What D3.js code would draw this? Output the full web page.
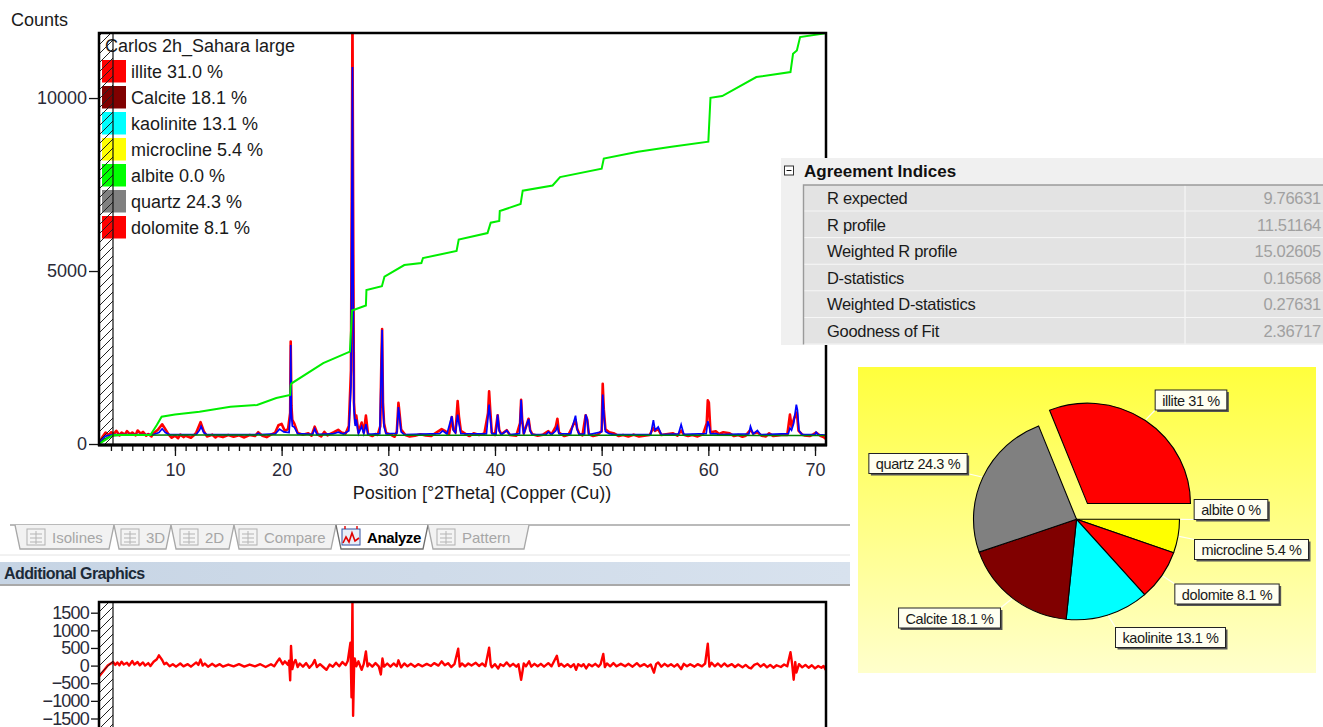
<!DOCTYPE html>
<html>
<head>
<meta charset="utf-8">
<script src="https://cdnjs.cloudflare.com/ajax/libs/d3/7.8.5/d3.min.js"></script>
<style>
body { margin: 0; background: #fff; }
svg { display: block; font-family: "Liberation Sans", Arial, sans-serif; }
</style>
</head>
<body>
<div id="chart"></div>
<script>
// phases found in the scan (legend order) and their weight %
var phases = ["illite", "Calcite", "kaolinite", "microcline", "albite", "quartz", "dolomite"];
var phasePercents = [31.0, 18.1, 13.1, 5.4, 0.0, 24.3, 8.1];
var phaseColors = ["#ff0000", "#800000", "#00ffff", "#ffff00", "#00ff00", "#808080", "#ff0000"];

// pie slices, clockwise from 3 o'clock
var pieOrder = ["albite", "microcline", "dolomite", "kaolinite", "Calcite", "quartz", "illite"];

// agreement indices table
var indexNames = ["R expected", "R profile", "Weighted R profile", "D-statistics", "Weighted D-statistics", "Goodness of Fit"];
var indexValues = [9.76631, 11.51164, 15.02605, 0.16568, 0.27631, 2.36717];

// tick labels
var xTicks = [10, 20, 30, 40, 50, 60, 70];
var yTicks = [0, 5000, 10000];
var diffTicks = [-1500, -1000, -500, 0, 500, 1000, 1500];

// observed counts [2theta, counts]
var observed = [
  [2.9, 40], [3.2, 200], [3.5, 330], [3.8, 260], [4.0, 340], [4.3, 300], [4.5, 380], [4.8, 250], [5.0, 330],
  [5.3, 270], [5.5, 370], [5.8, 280], [6.0, 330], [6.3, 250], [6.5, 390], [6.8, 300], [7.0, 350], [7.3, 240],
  [7.5, 290], [7.8, 220], [8.0, 310], [8.4, 410], [8.8, 570], [9.1, 430], [9.4, 280], [9.7, 180], [10.0, 240],
  [10.3, 170], [10.5, 270], [10.8, 200], [11.0, 240], [11.5, 180], [11.8, 260], [12.0, 330], [12.4, 630],
  [12.7, 370], [13.0, 220], [13.5, 270], [13.8, 190], [14.0, 240], [14.5, 200], [15.0, 260], [15.5, 210],
  [16.0, 250], [16.5, 190], [17.0, 260], [17.5, 230], [17.8, 340], [18.2, 240], [18.6, 200], [19.0, 270],
  [19.4, 330], [19.7, 540], [20.0, 580], [20.3, 380], [20.6, 430], [20.8, 900], [20.85, 2960], [20.92, 1100],
  [21.0, 700], [21.2, 580], [21.5, 320], [22.0, 270], [22.5, 310], [22.8, 240], [23.1, 500], [23.4, 270],
  [23.7, 220], [24.0, 350], [24.3, 250], [24.6, 300], [24.9, 340], [25.3, 410], [25.6, 330], [26.0, 300],
  [26.3, 520], [26.5, 2140], [26.6, 9000], [26.64, 12500], [26.7, 7000], [26.78, 1200], [26.9, 600], [27.0, 820],
  [27.2, 330], [27.5, 620], [27.7, 330], [27.9, 820], [28.1, 280], [28.5, 230], [28.8, 290], [29.0, 260],
  [29.25, 520], [29.35, 2400], [29.42, 3320], [29.5, 1200], [29.6, 600], [29.8, 320], [30.3, 260], [30.6, 210],
  [30.8, 360], [30.95, 1190], [31.05, 900], [31.2, 420], [31.6, 260], [32.0, 220], [32.5, 240], [33.0, 280],
  [33.5, 250], [34.0, 230], [34.5, 330], [35.0, 430], [35.3, 380], [35.7, 290], [35.95, 780], [36.1, 420],
  [36.3, 330], [36.5, 1240], [36.62, 800], [36.8, 380], [37.3, 280], [37.6, 230], [38.0, 310], [38.5, 260],
  [39.0, 300], [39.35, 900], [39.45, 1520], [39.55, 1000], [39.7, 330], [40.0, 260], [40.25, 830], [40.4, 400],
  [40.6, 280], [41.1, 400], [41.4, 260], [42.0, 240], [42.35, 600], [42.45, 1280], [42.55, 700], [42.7, 300],
  [43.15, 730], [43.3, 400], [43.5, 280], [44.0, 240], [44.5, 270], [45.0, 370], [45.3, 280], [45.7, 500],
  [45.85, 730], [46.0, 330], [46.5, 230], [46.9, 270], [47.2, 460], [47.55, 700], [47.7, 450], [47.9, 290],
  [48.2, 250], [48.5, 830], [48.65, 700], [48.8, 280], [49.2, 230], [49.6, 260], [50.0, 380], [50.1, 1740],
  [50.2, 1000], [50.35, 430], [50.7, 340], [51.2, 300], [51.6, 230], [52.0, 260], [52.5, 220], [53.0, 270],
  [53.5, 220], [54.0, 240], [54.5, 260], [54.85, 470], [55.0, 380], [55.3, 430], [55.6, 260], [56.2, 290],
  [56.7, 310], [57.1, 240], [57.45, 390], [57.7, 270], [58.1, 230], [58.5, 260], [59.0, 220], [59.5, 280],
  [59.85, 600], [59.95, 1260], [60.05, 1200], [60.2, 340], [60.7, 370], [61.0, 290], [61.4, 340], [62.0, 310],
  [62.4, 230], [62.8, 260], [63.2, 210], [63.5, 240], [63.95, 410], [64.2, 300], [64.6, 340], [65.0, 240],
  [65.4, 220], [65.7, 310], [66.1, 230], [66.5, 250], [67.0, 270], [67.4, 260], [67.65, 850], [67.8, 500],
  [68.0, 700], [68.15, 830], [68.3, 910], [68.45, 390], [68.8, 270], [69.0, 250], [69.5, 230], [69.8, 270],
  [70.1, 330], [70.5, 240], [70.8, 200], [71.0, 150]
];

// calculated profile [2theta, counts]
var calculated = [
  [2.9, 30], [3.5, 230], [4.2, 270], [6.0, 270], [8.0, 275], [8.5, 330], [8.8, 440], [9.1, 330], [9.5, 270],
  [12.0, 275], [12.3, 400], [12.45, 510], [12.7, 330], [13.0, 270], [17.6, 270], [17.8, 310], [18.0, 270],
  [19.4, 290], [19.8, 430], [20.2, 350], [20.7, 330], [20.8, 800], [20.85, 2860], [20.92, 900], [21.0, 520],
  [21.2, 480], [21.5, 300], [22.9, 280], [23.1, 440], [23.3, 280], [24.8, 290], [25.3, 340], [25.8, 290],
  [26.3, 380], [26.5, 1660], [26.58, 7000], [26.64, 10900], [26.7, 5000], [26.78, 1000], [26.9, 520],
  [27.0, 710], [27.2, 300], [27.5, 510], [27.7, 300], [27.9, 570], [28.1, 280], [29.2, 300], [29.35, 2300],
  [29.42, 3300], [29.5, 1100], [29.6, 500], [29.8, 290], [30.8, 310], [30.95, 1070], [31.05, 800], [31.2, 350],
  [31.5, 270], [34.8, 300], [35.1, 380], [35.5, 290], [35.95, 800], [36.1, 400], [36.3, 320], [36.5, 850],
  [36.62, 600], [36.8, 300], [39.2, 290], [39.35, 800], [39.45, 1140], [39.55, 800], [39.7, 300], [40.1, 290],
  [40.25, 850], [40.4, 380], [40.6, 270], [41.1, 390], [41.4, 270], [42.3, 300], [42.45, 1280], [42.55, 700],
  [42.7, 280], [43.15, 720], [43.3, 380], [43.5, 270], [44.8, 280], [45.0, 350], [45.3, 270], [45.7, 380],
  [45.85, 510], [46.0, 300], [47.1, 290], [47.2, 430], [47.55, 820], [47.7, 420], [47.9, 280], [48.4, 290],
  [48.5, 850], [48.65, 700], [48.8, 270], [50.0, 350], [50.1, 1430], [50.2, 900], [50.35, 360], [50.7, 300],
  [51.2, 270], [54.6, 280], [54.85, 690], [55.0, 400], [55.3, 490], [55.6, 270], [57.2, 290], [57.45, 560],
  [57.7, 280], [59.8, 300], [59.95, 660], [60.1, 500], [60.2, 290], [60.7, 300], [61.0, 270], [63.8, 290],
  [63.95, 510], [64.2, 290], [64.6, 390], [64.9, 270], [67.5, 300], [67.65, 460], [67.8, 400], [68.0, 600],
  [68.15, 920], [68.25, 1140], [68.35, 990], [68.5, 380], [68.8, 270], [70.0, 280], [70.1, 340], [70.3, 270],
  [71.0, 260]
];

// refined background [2theta, counts]
var background = [
  [2.9, 0], [3.4, 150], [4.0, 230], [5.0, 255], [10.0, 258], [20.0, 258], [30.0, 255], [40.0, 252],
  [50.0, 250], [60.0, 250], [71.0, 245]
];

// cumulative (green) curve [2theta, counts]
var cumulative = [
  [2.9, 0], [4.2, 260], [7.7, 260], [8.3, 550], [8.75, 790], [10.0, 850], [12.3, 934], [15.2, 1078],
  [17.7, 1127], [19.5, 1329], [20.8, 1416], [20.85, 1705], [20.94, 1754], [23.9, 2340], [26.4, 2668],
  [26.6, 3858], [27.9, 4003], [27.95, 4450], [29.4, 4560], [29.64, 4835], [31.5, 5173], [33.1, 5231],
  [33.25, 5375], [36.4, 5578], [36.6, 5907], [39.3, 6098], [39.6, 6396], [40.4, 6445], [40.45, 6734],
  [42.4, 6936], [42.6, 7323], [45.4, 7471], [46.1, 7716], [50.0, 7959], [50.2, 8251], [53.4, 8447],
  [56.55, 8592], [60.0, 8739], [60.2, 10008], [61.3, 10057], [64.5, 10606], [67.7, 10751], [67.94, 11277],
  [68.3, 11375], [68.6, 11762], [70.8, 11863], [71.0, 11880]
];

// difference (observed - calculated) [2theta, counts]
var difference = [
  [2.9, -300], [3.3, -150], [3.7, 0], [4.2, 100], [4.4, 20], [4.6, 90], [4.8, 10], [5.0, 110], [5.2, 30],
  [5.5, 80], [5.7, 0], [6.0, 130], [6.2, 30], [6.5, 100], [6.7, 10], [7.0, 90], [7.2, 0], [7.5, 70],
  [7.7, -10], [8.0, 110], [8.3, 180], [8.5, 290], [8.8, 160], [9.0, 40], [9.2, 80], [9.5, -20], [9.8, 40],
  [10.1, -30], [10.5, 60], [10.8, -20], [11.2, 40], [11.5, -30], [12.0, 90], [12.2, 20], [12.4, 170],
  [12.6, 0], [12.8, 60], [13.1, -30], [13.5, 50], [13.8, -20], [14.2, 40], [14.5, -30], [15.0, 30],
  [15.5, -20], [16.0, 40], [16.5, -30], [17.0, 30], [17.5, -20], [18.0, 40], [18.5, -40], [19.0, 40],
  [19.3, -20], [19.6, 120], [19.8, 200], [20.1, 40], [20.3, 120], [20.6, 20], [20.7, 140], [20.8, -420],
  [20.88, 560], [21.0, -100], [21.15, 80], [21.3, 160], [21.5, -40], [21.7, 60], [22.0, -30], [22.3, 70],
  [22.6, -60], [22.9, 40], [23.1, 160], [23.3, -40], [23.6, 40], [23.9, -40], [24.2, -120], [24.5, 30],
  [24.8, -30], [25.1, 80], [25.4, -20], [25.7, 100], [26.0, 10], [26.2, 130], [26.45, 650], [26.55, -900],
  [26.64, 1900], [26.7, -1420], [26.8, 60], [26.85, 200], [27.0, -20], [27.2, 120], [27.4, -40], [27.5, -120],
  [27.7, 50], [27.9, 400], [28.05, -20], [28.2, 60], [28.5, -30], [28.8, 70], [29.1, -20], [29.3, -250],
  [29.45, 200], [29.6, -30], [29.9, 60], [30.2, -30], [30.5, 60], [30.8, -20], [30.95, 150], [31.2, -50],
  [31.5, 60], [31.8, -20], [32.1, 50], [32.5, -30], [32.8, 40], [33.2, -20], [33.6, 50], [34.0, -10],
  [34.3, 70], [34.7, 0], [35.0, 120], [35.3, 10], [35.6, 70], [35.9, -40], [36.2, 40], [36.55, 480],
  [36.7, -30], [36.9, 60], [37.2, -20], [37.5, 60], [37.8, 0], [38.2, 80], [38.5, -10], [38.8, 60],
  [39.1, -20], [39.45, 510], [39.6, 20], [39.7, -50], [40.0, 40], [40.3, -80], [40.5, 40], [40.8, -10],
  [41.1, 90], [41.4, -20], [41.7, 50], [42.0, -30], [42.2, 40], [42.45, -400], [42.7, 60], [42.9, -20],
  [43.2, 120], [43.4, -30], [43.7, 50], [44.0, -20], [44.3, 50], [44.6, -30], [45.0, 70], [45.3, -20],
  [45.8, 280], [46.0, -10], [46.2, 50], [46.5, -30], [46.8, 40], [47.1, -40], [47.4, 40], [47.6, -120],
  [47.8, 40], [48.1, -20], [48.3, 40], [48.55, -80], [48.8, 40], [49.1, -20], [49.4, 50], [49.7, -30],
  [49.9, 40], [50.15, 330], [50.3, -40], [50.5, 60], [50.8, -20], [51.1, 70], [51.4, -20], [51.8, 50],
  [52.2, -20], [52.5, 50], [52.9, -30], [53.3, 70], [53.6, -20], [54.0, 40], [54.3, -30], [54.6, 30],
  [54.9, -200], [55.1, 40], [55.3, 90], [55.6, -30], [55.9, 50], [56.2, -20], [56.5, 40], [56.8, -30],
  [57.1, 40], [57.45, -100], [57.7, 50], [58.0, -20], [58.3, 40], [58.7, -30], [59.0, 40], [59.4, -20],
  [59.7, 60], [59.95, 620], [60.1, -30], [60.3, 80], [60.6, -20], [60.9, 60], [61.2, -30], [61.5, 60],
  [61.8, -20], [62.2, 40], [62.5, -40], [62.8, 30], [63.2, -50], [63.5, 20], [63.8, -60], [64.0, -80],
  [64.3, 20], [64.6, 60], [64.9, -30], [65.2, 40], [65.5, -50], [65.8, 20], [66.1, -60], [66.4, 10],
  [66.8, -40], [67.1, 30], [67.4, -20], [67.7, 380], [67.85, 60], [68.0, -400], [68.15, 100], [68.25, -200],
  [68.5, 40], [68.8, -50], [69.1, 20], [69.4, -60], [69.7, 10], [70.0, -80], [70.3, -10], [70.6, -60],
  [70.8, -10], [71.0, -120]
];

var W = 1323, H = 727;
var svg = d3.select("#chart").append("svg").attr("width", W).attr("height", H);
var defs = svg.append("defs");

// hatch for the excluded low-angle region
var pat = defs.append("pattern").attr("id", "hatch")
  .attr("patternUnits", "userSpaceOnUse").attr("width", 9).attr("height", 9);
pat.append("path").attr("d", "M-2,2 L2,-2 M0,9 L9,0 M7,11 L11,7")
  .attr("stroke", "#222").attr("stroke-width", 1);

var yellowGrad = defs.append("linearGradient").attr("id", "yellowGrad")
  .attr("x1", 0).attr("y1", 0).attr("x2", 0).attr("y2", 1);
yellowGrad.append("stop").attr("offset", "0%").attr("stop-color", "#ffff3c");
yellowGrad.append("stop").attr("offset", "100%").attr("stop-color", "#ffffcc");

var headGrad = defs.append("linearGradient").attr("id", "headGrad")
  .attr("x1", 0).attr("y1", 0).attr("x2", 1).attr("y2", 0);
headGrad.append("stop").attr("offset", "0%").attr("stop-color", "#c6d4e4");
headGrad.append("stop").attr("offset", "100%").attr("stop-color", "#d8e2ee");

// ---------- main pattern plot ----------
var plotLeft = 99, plotRight = 826, plotTop = 33, plotBottom = 445, hatchEnd = 113;
var x = d3.scaleLinear().domain([2.88, 71.03]).range([plotLeft, plotRight]);
var y = d3.scaleLinear().domain([0, 11880]).range([444, plotTop]);

defs.append("clipPath").attr("id", "mainClip").append("rect")
  .attr("x", plotLeft).attr("y", plotTop).attr("width", plotRight - plotLeft).attr("height", plotBottom - plotTop);

var main = svg.append("g");

var line = d3.line().x(function(d) { return x(d[0]); }).y(function(d) { return y(d[1]); });
var plot = main.append("g").attr("clip-path", "url(#mainClip)");

plot.append("path").datum(observed).attr("d", line)
  .attr("fill", "none").attr("stroke", "#ff0000").attr("stroke-width", 2.6).attr("stroke-linejoin", "round");
plot.append("path").datum(calculated).attr("d", line)
  .attr("fill", "none").attr("stroke", "#0000ff").attr("stroke-width", 1.7);
plot.append("path").datum(background).attr("d", line)
  .attr("fill", "none").attr("stroke", "#008000").attr("stroke-width", 1.5);
plot.append("path").datum(cumulative).attr("d", line)
  .attr("fill", "none").attr("stroke", "#00ee00").attr("stroke-width", 2);

// legend
var legend = main.append("g");
legend.append("text").attr("x", 105).attr("y", 51.5).attr("font-size", 18).attr("fill", "#1a1a1a")
  .text("Carlos 2h_Sahara large");
var items = legend.selectAll("g.item").data(phases).enter().append("g").attr("class", "item")
  .attr("transform", function(d, i) { return "translate(0," + (60 + i * 26) + ")"; });
items.append("rect").attr("x", 102).attr("y", 0).attr("width", 24).attr("height", 22.5)
  .attr("fill", function(d, i) { return phaseColors[i]; });
items.append("text").attr("x", 131).attr("y", 17.5).attr("font-size", 18).attr("fill", "#1a1a1a")
  .text(function(d, i) { return d + " " + phasePercents[i].toFixed(1) + " %"; });

// hatched excluded zone drawn over the data and legend swatches
main.append("rect").attr("x", plotLeft).attr("y", plotTop).attr("width", hatchEnd - plotLeft).attr("height", plotBottom - plotTop)
  .attr("fill", "url(#hatch)");
main.append("line").attr("x1", hatchEnd).attr("x2", hatchEnd).attr("y1", plotTop).attr("y2", plotBottom)
  .attr("stroke", "#111").attr("stroke-width", 1.2);

// frame
main.append("rect").attr("x", plotLeft).attr("y", plotTop).attr("width", plotRight - plotLeft).attr("height", plotBottom - plotTop)
  .attr("fill", "none").attr("stroke", "#000").attr("stroke-width", 2.5);

// axes
main.append("g").attr("transform", "translate(0," + plotBottom + ")")
  .call(d3.axisBottom(x).tickValues(xTicks).tickSize(11).tickSizeOuter(0).tickPadding(7).tickFormat(d3.format("d")));
main.append("g").attr("transform", "translate(0," + plotBottom + ")")
  .call(d3.axisBottom(x).tickValues(d3.range(4, 71, 1)).tickSize(6).tickSizeOuter(0).tickFormat(""));
main.append("g").attr("transform", "translate(" + plotLeft + ",0)")
  .call(d3.axisLeft(y).tickValues(yTicks).tickSize(10).tickSizeOuter(0).tickPadding(2).tickFormat(d3.format("d")));
main.selectAll(".domain").remove();
main.selectAll(".tick line").attr("stroke", "#111").attr("stroke-width", 1.3);
main.selectAll(".tick text").attr("font-size", 18).attr("fill", "#2a2a38")
  .attr("font-family", "Liberation Sans, Arial, sans-serif");
main.append("line").attr("x1", plotLeft - 1).attr("x2", plotRight + 1).attr("y1", plotBottom).attr("y2", plotBottom)
  .attr("stroke", "#000").attr("stroke-width", 3);

main.append("text").attr("x", 11).attr("y", 26).attr("font-size", 18).attr("fill", "#1a1a1a").text("Counts");
main.append("text").attr("x", 482).attr("y", 499).attr("text-anchor", "middle").attr("font-size", 18)
  .attr("fill", "#1a1a1a").text("Position [°2Theta] (Copper (Cu))");

// ---------- tab strip & header ----------
var tabNames = ["Isolines", "3D", "2D", "Compare", "Analyze", "Pattern"];
var tabEdges = [15, 114, 171, 234, 336, 428, 529];
var tabTextX = [52, 146, 205, 264, 367, 462];
var tabs = svg.append("g");
tabs.append("line").attr("x1", 10).attr("x2", 850).attr("y1", 525).attr("y2", 525)
  .attr("stroke", "#a3a3a3").attr("stroke-width", 1.5);
tabNames.forEach(function(name, i) {
  var x0 = tabEdges[i], x1 = tabEdges[i + 1];
  var active = name === "Analyze";
  tabs.append("path")
    .attr("d", "M" + x0 + ",525 L" + (x0 + 5) + ",549 L" + (x1 - 5) + ",549 L" + x1 + ",525")
    .attr("fill", active ? "#ffffff" : "#f2f2f2").attr("stroke", active ? "#6d6d6d" : "#a8a8a8")
    .attr("stroke-width", 1.3);
  var ix = tabTextX[i] - 25;
  var icon = tabs.append("g").attr("transform", "translate(" + ix + ",529)");
  icon.append("rect").attr("x", 0).attr("y", 0).attr("width", 18).attr("height", 16)
    .attr("fill", active ? "#e8eef8" : "#f4f4f4").attr("stroke", active ? "#3050a0" : "#b0b0b0");
  if (active) {
    icon.append("path").attr("d", "M1,14 L4,8 L7,13 L10,4 L13,12 L17,9")
      .attr("fill", "none").attr("stroke", "#e00000").attr("stroke-width", 1.6);
    icon.append("path").attr("d", "M3,0 L3,-3 M15,0 L15,-3").attr("stroke", "#e00000").attr("stroke-width", 1.4);
  } else {
    icon.append("path").attr("d", "M3,5 L15,5 M3,9 L15,9 M3,13 L15,13 M9,2 L9,15")
      .attr("fill", "none").attr("stroke", "#b4b4b4").attr("stroke-width", 1);
  }
  tabs.append("text").attr("x", tabTextX[i]).attr("y", 543).attr("font-size", 15)
    .attr("fill", active ? "#000" : "#a6a6a6").attr("font-weight", active ? "bold" : "normal")
    .attr("letter-spacing", active ? -0.4 : 0)
    .text(name);
});
tabs.append("line").attr("x1", 0).attr("x2", 850).attr("y1", 555).attr("y2", 555)
  .attr("stroke", "#e4e4e4").attr("stroke-width", 1);
tabs.append("rect").attr("x", 0).attr("y", 562).attr("width", 850).attr("height", 22).attr("fill", "url(#headGrad)");
tabs.append("line").attr("x1", 0).attr("x2", 850).attr("y1", 585).attr("y2", 585)
  .attr("stroke", "#8c8c8c").attr("stroke-width", 1.5);
tabs.append("text").attr("x", 4).attr("y", 579).attr("font-size", 16).attr("font-weight", "bold")
  .attr("fill", "#1c2a38").attr("letter-spacing", -0.6).text("Additional Graphics");

// ---------- difference plot ----------
var dTop = 602, dBottom = 745;
var yd = d3.scaleLinear().domain([-1500, 1500]).range([718.5, 612.7]);
defs.append("clipPath").attr("id", "diffClip").append("rect")
  .attr("x", plotLeft).attr("y", dTop).attr("width", plotRight - plotLeft).attr("height", dBottom - dTop);
var diff = svg.append("g");
var dline = d3.line().x(function(d) { return x(d[0]); }).y(function(d) { return yd(d[1]); });
diff.append("g").attr("clip-path", "url(#diffClip)").append("path").datum(difference).attr("d", dline)
  .attr("fill", "none").attr("stroke", "#ff0000").attr("stroke-width", 2.4).attr("stroke-linejoin", "round");
diff.append("rect").attr("x", plotLeft).attr("y", dTop).attr("width", hatchEnd - plotLeft).attr("height", dBottom - dTop)
  .attr("fill", "url(#hatch)");
diff.append("line").attr("x1", hatchEnd).attr("x2", hatchEnd).attr("y1", dTop).attr("y2", dBottom)
  .attr("stroke", "#111").attr("stroke-width", 1.2);
diff.append("rect").attr("x", plotLeft).attr("y", dTop).attr("width", plotRight - plotLeft).attr("height", dBottom - dTop)
  .attr("fill", "none").attr("stroke", "#000").attr("stroke-width", 2.5);
diff.append("g").attr("transform", "translate(" + plotLeft + ",0)")
  .call(d3.axisLeft(yd).tickValues(diffTicks).tickSize(8).tickSizeOuter(0).tickPadding(2).tickFormat(d3.format("d")));
diff.selectAll(".domain").remove();
diff.selectAll(".tick line").attr("stroke", "#111").attr("stroke-width", 1.3);
diff.selectAll(".tick text").attr("font-size", 18).attr("fill", "#2a2a38").attr("letter-spacing", -0.8)
  .attr("font-family", "Liberation Sans, Arial, sans-serif");

// ---------- agreement indices panel ----------
var panel = svg.append("g");
panel.append("rect").attr("x", 781).attr("y", 158).attr("width", 542).attr("height", 187).attr("fill", "#f0f0f0");
panel.append("rect").attr("x", 784.5).attr("y", 166).attr("width", 9).attr("height", 9)
  .attr("fill", "#fff").attr("stroke", "#333").attr("stroke-width", 1);
panel.append("line").attr("x1", 786.5).attr("x2", 791.5).attr("y1", 170.5).attr("y2", 170.5).attr("stroke", "#111");
panel.append("text").attr("x", 804).attr("y", 177).attr("font-size", 17).attr("font-weight", "bold")
  .attr("fill", "#111").text("Agreement Indices");
var rowH = 26.6, tableTop = 185;
var rows = panel.selectAll("g.row").data(indexNames).enter().append("g").attr("class", "row")
  .attr("transform", function(d, i) { return "translate(0," + (tableTop + i * rowH) + ")"; });
rows.append("rect").attr("x", 803).attr("y", 0).attr("width", 520).attr("height", rowH).attr("fill", "#e3e3e3");
rows.append("line").attr("x1", 803).attr("x2", 1323).attr("y1", rowH - 0.5).attr("y2", rowH - 0.5)
  .attr("stroke", "#f6f6f6").attr("stroke-width", 1.2);
rows.append("text").attr("x", 827).attr("y", 19).attr("font-size", 16.5).attr("fill", "#1a1a1a")
  .attr("letter-spacing", -0.3).text(function(d) { return d; });
rows.append("text").attr("x", 1321).attr("y", 19).attr("text-anchor", "end").attr("font-size", 16.5)
  .attr("fill", "#a0a0a0").attr("letter-spacing", -0.3)
  .text(function(d, i) { return indexValues[i].toFixed(5); });
panel.append("line").attr("x1", 1185).attr("x2", 1185).attr("y1", tableTop).attr("y2", tableTop + 6 * rowH)
  .attr("stroke", "#f6f6f6").attr("stroke-width", 1.2);
panel.append("path").attr("d", "M803.5," + (tableTop + 6 * rowH) + " V" + tableTop + " H1323")
  .attr("fill", "none").attr("stroke", "#9a9a9a").attr("stroke-width", 1.4);

// ---------- pie chart ----------
var pieBox = svg.append("g");
pieBox.append("rect").attr("x", 858).attr("y", 367).attr("width", 458).attr("height", 306).attr("fill", "url(#yellowGrad)");

var cx = 1076.5, cy = 519.3, radius = 103, explode = 19.5;
var pieValues = pieOrder.map(function(n) { return phasePercents[phases.indexOf(n)]; });
var pieColors = pieOrder.map(function(n) { return phaseColors[phases.indexOf(n)]; });
var pie = d3.pie().sort(null).startAngle(Math.PI / 2).endAngle(Math.PI / 2 + 2 * Math.PI).value(function(d) { return d; });
var arcs = pie(pieValues);
var arc = d3.arc().innerRadius(0).outerRadius(radius);

// label box centers relative to pie centre (layout only)
var labelPos = {
  illite: [114.5, -119.3], albite: [154.5, -9.8], microcline: [175, 30.2], dolomite: [150.5, 74.7],
  kaolinite: [94, 118.2], Calcite: [-127, 98.7], quartz: [-158.5, -55.8]
};

var pg = pieBox.append("g").attr("transform", "translate(" + cx + "," + cy + ") scale(1,0.975)");
arcs.forEach(function(a, i) {
  var name = pieOrder[i];
  if (a.value === 0) return;
  var mid = (a.startAngle + a.endAngle) / 2;
  var off = name === "illite" ? explode : 0;
  pg.append("path").attr("d", arc(a))
    .attr("transform", "translate(" + (Math.sin(mid) * off) + "," + (-Math.cos(mid) * off) + ")")
    .attr("fill", pieColors[i]).attr("stroke", "#000").attr("stroke-width", 1.1);
});

var lab = pieBox.append("g");
arcs.forEach(function(a, i) {
  var name = pieOrder[i];
  var mid = (a.startAngle + a.endAngle) / 2;
  var off = name === "illite" ? explode : 0;
  var px = cx + Math.sin(mid) * (radius + off + 1), py = cy - Math.cos(mid) * (radius + off + 1) * 0.975;
  var bx = cx + labelPos[name][0], by = cy + labelPos[name][1];
  var txt = name + " " + a.value + " %";
  var t = lab.append("text").attr("font-size", 14.5).attr("fill", "#1a1a1a").attr("letter-spacing", -0.4)
    .attr("text-anchor", "middle").attr("x", bx).attr("y", by + 5.5).text(txt);
  var w = t.node().getComputedTextLength() + 14, h = 20;
  var ex = bx + (bx > cx ? -w / 2 : w / 2);
  lab.insert("line", "text").attr("x1", px).attr("y1", py).attr("x2", ex).attr("y2", by + (by > cy ? -h / 2 : h / 2))
    .attr("stroke", "#fffff4").attr("stroke-width", 1.2);
  lab.insert("rect", "text").attr("x", bx - w / 2 + 2).attr("y", by - h / 2 + 2).attr("width", w).attr("height", h)
    .attr("fill", "#555");
  lab.insert("rect", "text").attr("x", bx - w / 2).attr("y", by - h / 2).attr("width", w).attr("height", h)
    .attr("fill", "#fffff0").attr("stroke", "#222").attr("stroke-width", 1);
});
</script>
</body>
</html>
